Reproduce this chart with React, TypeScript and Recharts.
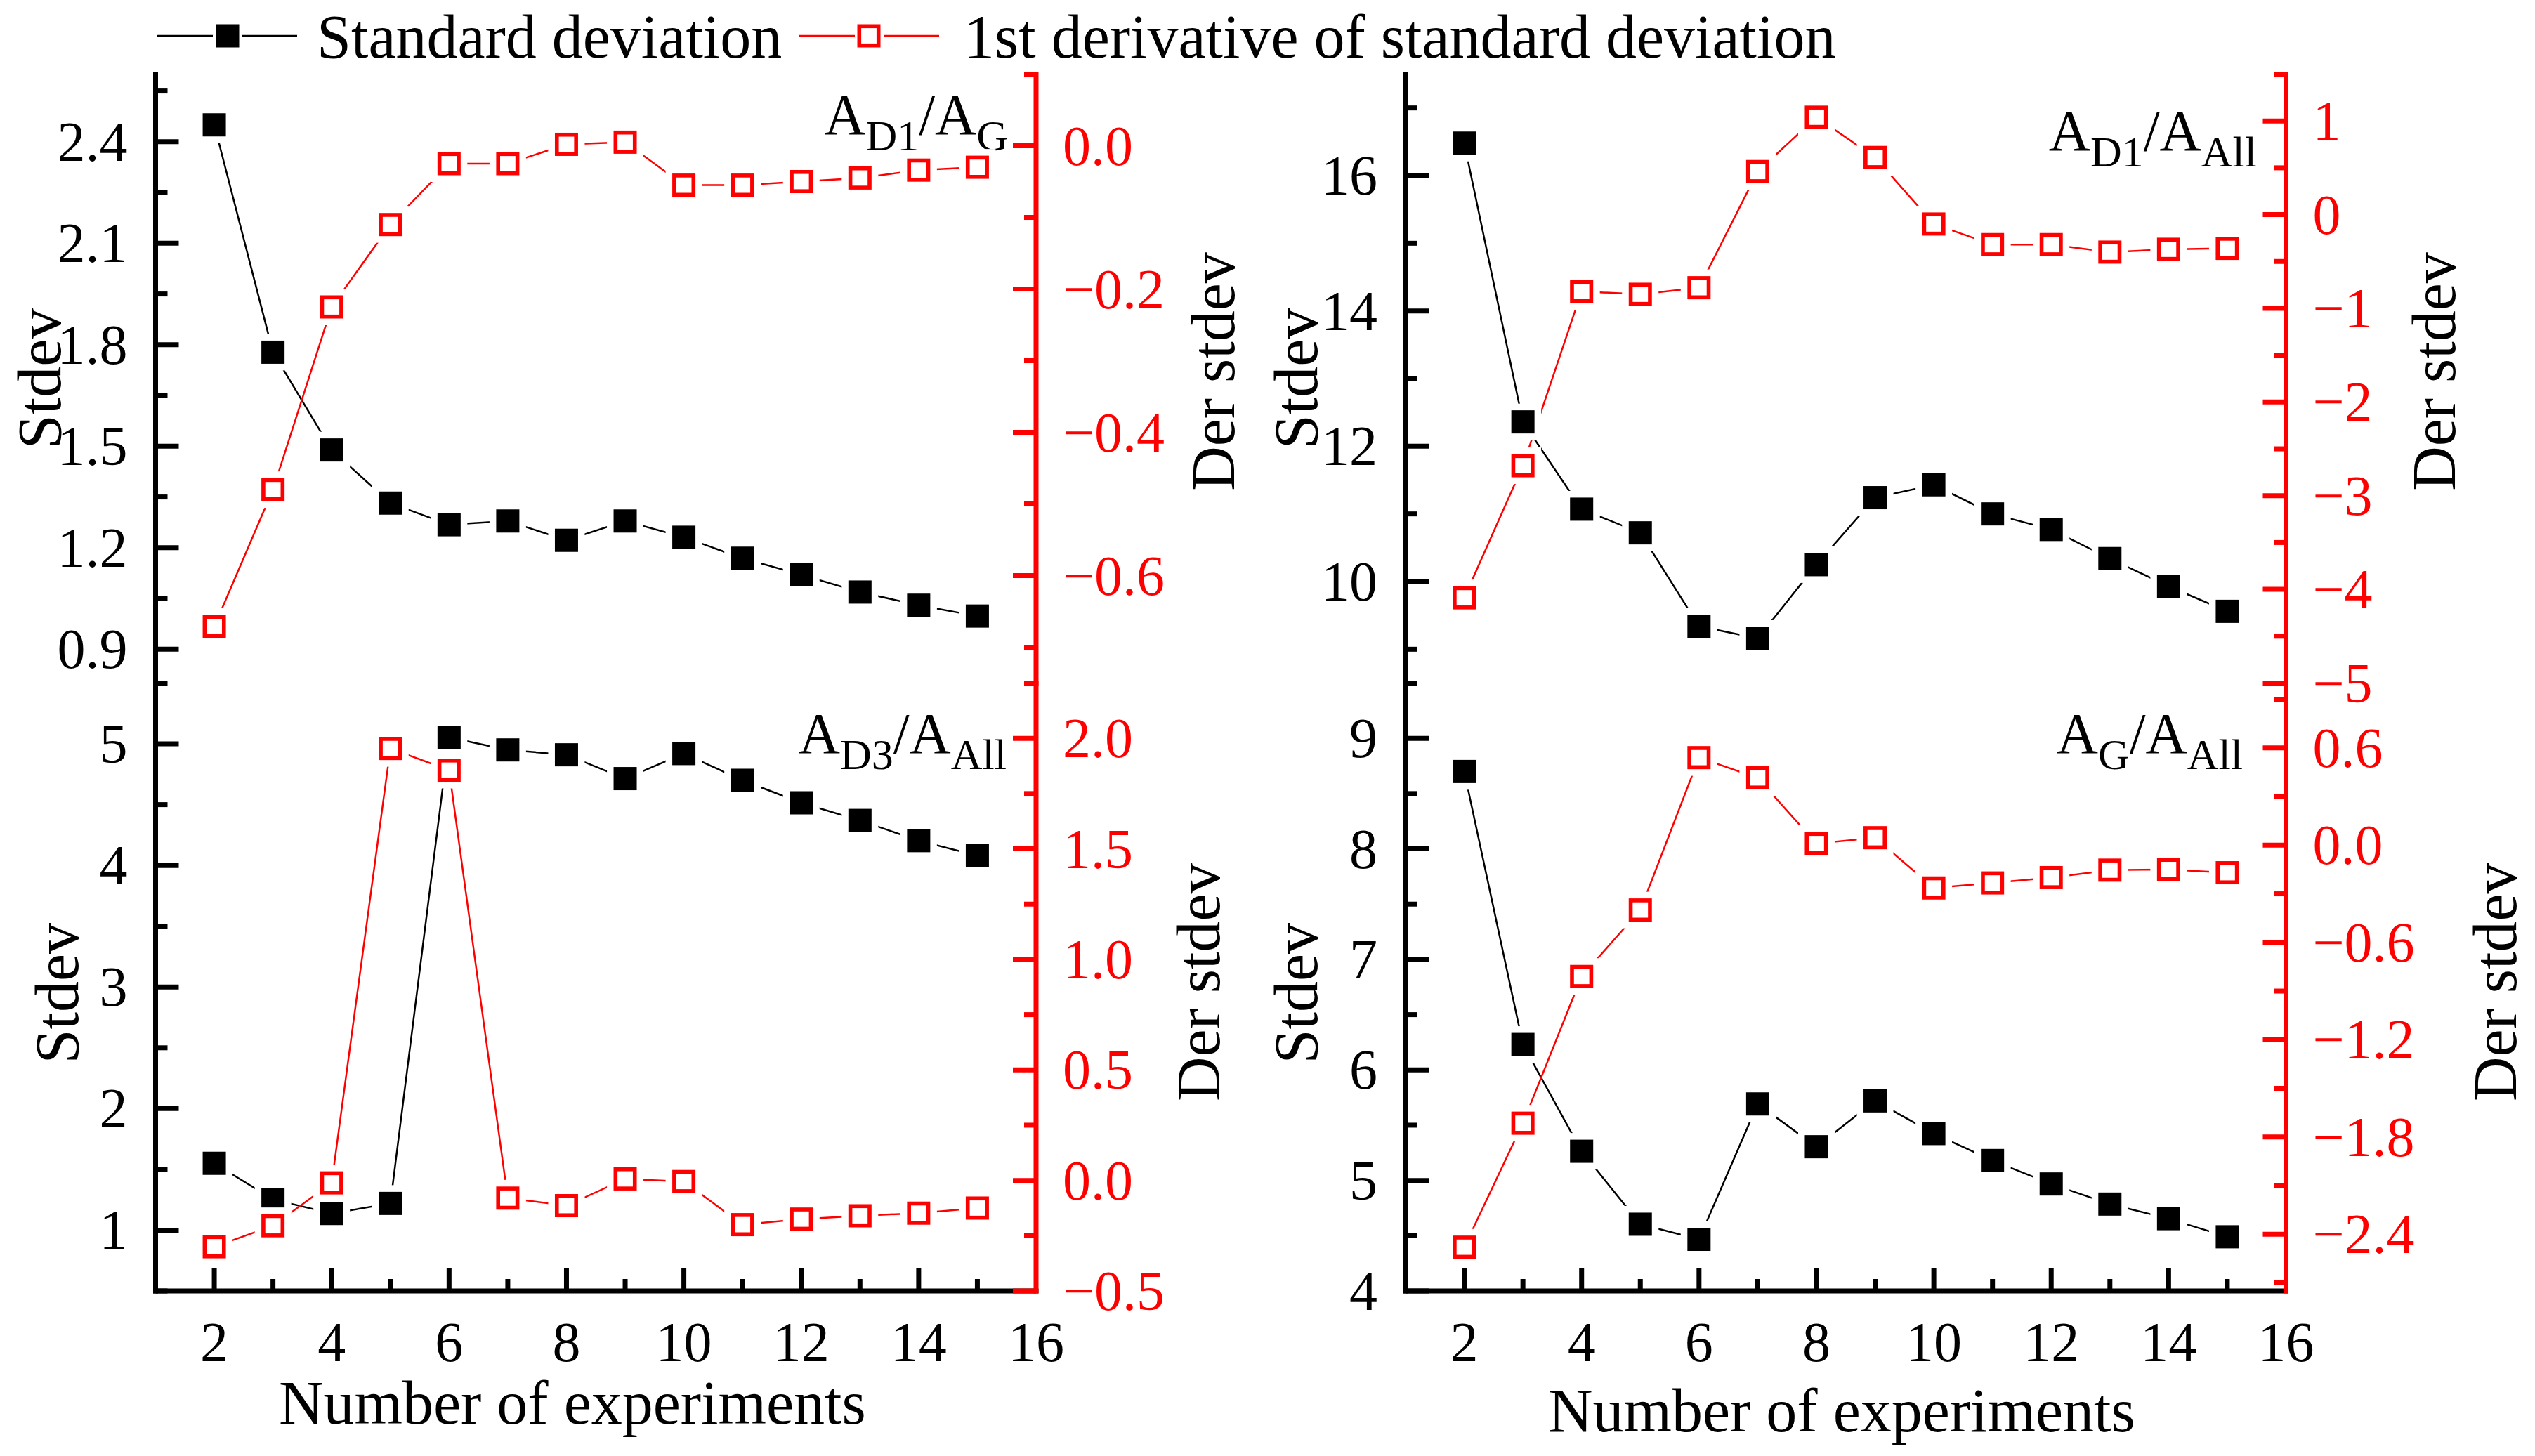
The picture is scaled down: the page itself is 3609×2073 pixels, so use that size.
import React from 'react';
import { LineChart, Line, XAxis, YAxis, Legend, Customized } from 'recharts';

const FONT = '"Liberation Serif", "Times New Roman", serif';
const W = 3609;
const H = 2073;
const RED = '#ff0000';
const BLACK = '#000000';

// ---------- data ----------
const experiments = [2, 3, 4, 5, 6, 7, 8, 9, 10, 11, 12, 13, 14, 15];

const stdevD1G = [2.45, 1.778, 1.489, 1.332, 1.268, 1.279, 1.222, 1.279, 1.231, 1.169, 1.12, 1.069, 1.03, 0.998];
const derD1G = [-0.671, -0.48, -0.225, -0.11, -0.025, -0.025, 0.002, 0.005, -0.055, -0.055, -0.05, -0.045, -0.034, -0.03];

const stdevD1All = [16.48, 12.36, 11.07, 10.72, 9.34, 9.16, 10.25, 11.24, 11.43, 11.0, 10.77, 10.34, 9.93, 9.56];
const derD1All = [-4.09, -2.68, -0.82, -0.85, -0.78, 0.46, 1.04, 0.61, -0.1, -0.32, -0.32, -0.4, -0.37, -0.36];

const stdevD3All = [1.55, 1.253, 1.137, 1.22, 5.054, 4.95, 4.91, 4.714, 4.92, 4.7, 4.515, 4.37, 4.204, 4.08];
const derD3All = [-0.3, -0.205, -0.011, 1.954, 1.856, -0.08, -0.114, 0.007, -0.005, -0.2, -0.175, -0.16, -0.148, -0.125];

const stdevGAll = [8.7, 6.23, 5.264, 4.604, 4.467, 5.692, 5.305, 5.72, 5.424, 5.18, 4.968, 4.786, 4.654, 4.49];
const derGAll = [-2.48, -1.715, -0.81, -0.4, 0.54, 0.415, 0.01, 0.046, -0.264, -0.233, -0.2, -0.154, -0.15, -0.17];

// ---------- tick labels ----------
const xMajorTicks = [2, 4, 6, 8, 10, 12, 14, 16];
const xMinorTicks = [3, 5, 7, 9, 11, 13, 15];

const tlLeftMajor = [0.9, 1.2, 1.5, 1.8, 2.1, 2.4];
const tlLeftMinor = [1.05, 1.35, 1.65, 1.95, 2.25, 2.55];
const tlRightMajor = [-0.6, -0.4, -0.2, 0.0];
const tlRightMinor = [-0.7, -0.5, -0.3, -0.1, 0.1];

const trLeftMajor = [10, 12, 14, 16];
const trLeftMinor = [9, 11, 13, 15, 17];
const trRightMajor = [-5, -4, -3, -2, -1, 0, 1];
const trRightMinor = [-4.5, -3.5, -2.5, -1.5, -0.5, 0.5, 1.5];

const blLeftMajor = [1, 2, 3, 4, 5];
const blLeftMinor = [0.5, 1.5, 2.5, 3.5, 4.5, 5.5];
const blRightMajor = [-0.5, 0.0, 0.5, 1.0, 1.5, 2.0];
const blRightMinor = [-0.25, 0.25, 0.75, 1.25, 1.75, 2.25];

const brLeftMajor = [4, 5, 6, 7, 8, 9];
const brLeftMinor = [4.5, 5.5, 6.5, 7.5, 8.5, 9.5];
const brRightMajor = [-2.4, -1.8, -1.2, -0.6, 0.0, 0.6];
const brRightMinor = [-2.7, -2.1, -1.5, -0.9, -0.3, 0.3, 0.9];

const legendLabels = ['Standard deviation', '1st derivative of standard deviation'];

const buildRows = (s: number[], d: number[]) =>
  experiments.map((x, i) => ({ x, s: s[i], d: d[i] }));

// ---------- helpers ----------
const minus = (str: string) => str.replace('-', '\u2212');
const fmtInt = (v: number) => minus(String(Math.round(v)));
const fmt1 = (v: number) => minus((Math.abs(v) < 1e-9 ? 0 : v).toFixed(1));

const isIn = (arr: number[], v: number) => arr.some((m) => Math.abs(m - v) < 1e-9);

const TICK_FS = 80;
const TITLE_FS = 88;
const MAJOR = 33;
const MINOR = 17;
const AXW = 7;

function YTick(props: any) {
  const { x, y, payload, side, majors, fmt, color } = props;
  const v = payload.value;
  const major = isIn(majors, v);
  const len = major ? MAJOR : MINOR;
  const dir = side === 'left' ? 1 : -1;
  return (
    <g>
      <line x1={x} y1={y} x2={x + dir * len} y2={y} stroke={color} strokeWidth={AXW} />
      {major && (
        <text
          x={side === 'left' ? x - 40 : x + 38}
          y={y + 27}
          textAnchor={side === 'left' ? 'end' : 'start'}
          fill={color}
          fontSize={TICK_FS}
          fontFamily={FONT}
        >
          {fmt(v)}
        </text>
      )}
    </g>
  );
}

function XTick(props: any) {
  const { x, y, payload } = props;
  const v = payload.value;
  const major = isIn(xMajorTicks, v);
  const len = v >= 16 ? 0 : major ? MAJOR : MINOR;
  return (
    <g>
      {len > 0 && <line x1={x} y1={y} x2={x} y2={y - len} stroke={BLACK} strokeWidth={AXW} />}
      {major && (
        <text x={x} y={y + 100} textAnchor="middle" fill={BLACK} fontSize={TICK_FS} fontFamily={FONT}>
          {v}
        </text>
      )}
    </g>
  );
}

function YTitle(props: any) {
  const { viewBox, side, text, dx, dy } = props;
  const vb = viewBox || { x: 0, y: 0, width: 0, height: 0 };
  const axisX = side === 'left' ? vb.x + vb.width : vb.x;
  const bx = axisX + dx;
  const cy = vb.y + vb.height / 2 + dy;
  return (
    <text
      x={bx}
      y={cy}
      transform={`rotate(-90 ${bx} ${cy})`}
      textAnchor="middle"
      fill={BLACK}
      fontSize={TITLE_FS}
      fontFamily={FONT}
    >
      {text}
    </text>
  );
}

function XTitle(props: any) {
  const { viewBox, dx, baseline } = props;
  const vb = viewBox || { x: 0, y: 0, width: 0, height: 0 };
  return (
    <text x={vb.x + dx} y={baseline} textAnchor="start" fill={BLACK} fontSize={TITLE_FS} fontFamily={FONT}>
      Number of experiments
    </text>
  );
}

const PAD = 52;
function BlackDot(props: any) {
  const { cx, cy, index } = props;
  if (cx == null || cy == null) return <g key={`b${index}`} />;
  return (
    <g key={`b${index}`}>
      <rect x={cx - PAD / 2} y={cy - PAD / 2} width={PAD} height={PAD} fill="#fff" />
      <rect x={cx - 16.5} y={cy - 16.5} width={33} height={33} fill={BLACK} />
    </g>
  );
}
function RedDot(props: any) {
  const { cx, cy, index } = props;
  if (cx == null || cy == null) return <g key={`r${index}`} />;
  return (
    <g key={`r${index}`}>
      <rect x={cx - PAD / 2} y={cy - PAD / 2} width={PAD} height={PAD} fill="#fff" />
      <rect x={cx - 13.7} y={cy - 13.7} width={27.4} height={27.4} fill="#fff" stroke={RED} strokeWidth={5.6} />
    </g>
  );
}

function PanelLabel({ x, y, parts }: { x: number; y: number; parts: [string, string, string, string] }) {
  const [a, sa, b, sb] = parts;
  return (
    <text x={x} y={y} textAnchor="end" fill={BLACK} fontSize={82} fontFamily={FONT}>
      <tspan>{a}</tspan>
      <tspan dy={23} fontSize={62}>{sa}</tspan>
      <tspan dy={-23}>{b}</tspan>
      <tspan dy={23} fontSize={62}>{sb}</tspan>
    </text>
  );
}

function LegendContent() {
  const cy = 51;
  return (
    <svg width={W} height={110} style={{ display: 'block' }}>
      <line x1={224} y1={cy} x2={303} y2={cy} stroke={BLACK} strokeWidth={2.5} />
      <line x1={345} y1={cy} x2={423} y2={cy} stroke={BLACK} strokeWidth={2.5} />
      <rect x={324 - 16.5} y={cy - 16.5} width={33} height={33} fill={BLACK} />
      <text x={451} y={82} fontSize={TITLE_FS} fontFamily={FONT} fill={BLACK}>
        {legendLabels[0]}
      </text>
      <line x1={1137} y1={cy} x2={1217} y2={cy} stroke={RED} strokeWidth={2.5} />
      <line x1={1258} y1={cy} x2={1337} y2={cy} stroke={RED} strokeWidth={2.5} />
      <rect x={1237 - 13.7} y={cy - 13.7} width={27.4} height={27.4} fill="#fff" stroke={RED} strokeWidth={5.6} />
      <text x={1372} y={82} fontSize={TITLE_FS} fontFamily={FONT} fill={BLACK}>
        {legendLabels[1]}
      </text>
    </svg>
  );
}

// ---------- layout ----------
const LEFT_X0 = 221.5;
const LEFT_X1 = 1475;
const RIGHT_X0 = 2001;
const RIGHT_X1 = 3254.5;
const TOP_Y = 105.5;
const MID_Y = 972.5;
const BOT_Y = 1838;
const YAW = 100;
const XAH = 150;

type PanelProps = {
  rows: { x: number; s: number; d: number }[];
  x0: number;
  x1: number;
  top: boolean;
  leftDomain: [number, number];
  rightDomain: [number, number];
  leftMajor: number[];
  leftMinor: number[];
  rightMajor: number[];
  rightMinor: number[];
  leftFmt: (v: number) => string;
  rightFmt: (v: number) => string;
  leftTitleDx: number;
  leftTitleDy: number;
  rightTitleDx: number;
  rightTitleDy: number;
  xTitleDx?: number;
  xTitleBaseline?: number;
  label: [string, string, string, string];
  labelX: number;
  labelY: number;
  legend?: boolean;
};

function Panel(p: PanelProps) {
  const y0 = p.top ? TOP_Y : MID_Y;
  const y1 = p.top ? MID_Y : BOT_Y;
  const bottomH = p.top ? 0 : XAH;
  const margin = {
    left: p.x0 - YAW,
    right: W - p.x1 - YAW,
    top: y0,
    bottom: H - y1 - bottomH,
  };
  const axisLineBlack = { stroke: BLACK, strokeWidth: AXW, strokeLinecap: 'square' as const };
  const axisLineRed = { stroke: RED, strokeWidth: AXW, strokeLinecap: 'square' as const };
  return (
    <div style={{ position: 'absolute', left: 0, top: 0 }}>
      <LineChart width={W} height={H} data={p.rows} margin={margin}>
        <XAxis
          xAxisId="top"
          orientation="top"
          type="number"
          dataKey="x"
          domain={[1, 16]}
          allowDataOverflow
          height={0}
          tick={false}
          tickLine={false}
          axisLine={axisLineBlack}
        />
        {p.top ? (
          <XAxis
            xAxisId="bottom"
            orientation="bottom"
            type="number"
            dataKey="x"
            domain={[1, 16]}
            allowDataOverflow
            height={0}
            tick={false}
            tickLine={false}
            axisLine={axisLineBlack}
          />
        ) : (
          <XAxis
            xAxisId="bottom"
            orientation="bottom"
            type="number"
            dataKey="x"
            domain={[1, 16]}
            allowDataOverflow
            height={XAH}
            ticks={[...xMajorTicks, ...xMinorTicks]}
            interval={0}
            tickSize={0}
            tickMargin={0}
            tickLine={false}
            tick={<XTick />}
            axisLine={axisLineBlack}
            label={<XTitle dx={p.xTitleDx} baseline={p.xTitleBaseline} />}
          />
        )}
        <YAxis
          yAxisId="left"
          orientation="left"
          type="number"
          domain={p.leftDomain}
          allowDataOverflow
          width={YAW}
          ticks={[...p.leftMajor, ...p.leftMinor]}
          interval={0}
          tickSize={0}
          tickMargin={0}
          tickLine={false}
          tick={<YTick side="left" majors={p.leftMajor} fmt={p.leftFmt} color={BLACK} />}
          axisLine={axisLineBlack}
          label={<YTitle side="left" text="Stdev" dx={p.leftTitleDx} dy={p.leftTitleDy} />}
        />
        <YAxis
          yAxisId="right"
          orientation="right"
          type="number"
          domain={p.rightDomain}
          allowDataOverflow
          width={YAW}
          ticks={[...p.rightMajor, ...p.rightMinor]}
          interval={0}
          tickSize={0}
          tickMargin={0}
          tickLine={false}
          tick={<YTick side="right" majors={p.rightMajor} fmt={p.rightFmt} color={RED} />}
          axisLine={axisLineRed}
          label={<YTitle side="right" text="Der stdev" dx={p.rightTitleDx} dy={p.rightTitleDy} />}
        />
        <Line
          xAxisId="bottom"
          yAxisId="left"
          dataKey="s"
          type="linear"
          stroke={BLACK}
          strokeWidth={2.5}
          dot={BlackDot}
          activeDot={false}
          isAnimationActive={false}
          name={legendLabels[0]}
        />
        <Line
          xAxisId="bottom"
          yAxisId="right"
          dataKey="d"
          type="linear"
          stroke={RED}
          strokeWidth={2.5}
          dot={RedDot}
          activeDot={false}
          isAnimationActive={false}
          name={legendLabels[1]}
        />
        <Customized component={() => <PanelLabel x={p.labelX} y={p.labelY} parts={p.label} />} />
        {p.legend && (
          <Legend
            verticalAlign="middle"
            align="center"
            layout="horizontal"
            wrapperStyle={{ left: 0, top: 0, width: W, height: 110, position: 'absolute' }}
            content={() => <LegendContent />}
          />
        )}
      </LineChart>
    </div>
  );
}

export default function App() {
  return (
    <div style={{ position: 'absolute', left: 0, top: 0, width: W, height: H, background: '#fff', overflow: 'hidden' }}>
      <Panel
        rows={buildRows(stdevD1G, derD1G)}
        x0={LEFT_X0}
        x1={LEFT_X1}
        top
        leftDomain={[0.8, 2.6]}
        rightDomain={[-0.75, 0.1]}
        leftMajor={tlLeftMajor}
        leftMinor={tlLeftMinor}
        rightMajor={tlRightMajor}
        rightMinor={tlRightMinor}
        leftFmt={fmt1}
        rightFmt={fmt1}
        leftTitleDx={-135.5}
        leftTitleDy={0}
        rightTitleDx={282}
        rightTitleDy={-10}
        label={['A', 'D1', '/A', 'G']}
        labelX={1435}
        labelY={191}
        legend
      />
      <Panel
        rows={buildRows(stdevD1All, derD1All)}
        x0={RIGHT_X0}
        x1={RIGHT_X1}
        top
        leftDomain={[8.5, 17.5]}
        rightDomain={[-5, 1.5]}
        leftMajor={trLeftMajor}
        leftMinor={trLeftMinor}
        rightMajor={trRightMajor}
        rightMinor={trRightMinor}
        leftFmt={fmtInt}
        rightFmt={fmtInt}
        leftTitleDx={-126}
        leftTitleDy={0}
        rightTitleDx={240.5}
        rightTitleDy={-10}
        label={['A', 'D1', '/A', 'All']}
        labelX={3213}
        labelY={214}
      />
      <Panel
        rows={buildRows(stdevD3All, derD3All)}
        x0={LEFT_X0}
        x1={LEFT_X1}
        top={false}
        leftDomain={[0.5, 5.5]}
        rightDomain={[-0.5, 2.25]}
        leftMajor={blLeftMajor}
        leftMinor={blLeftMinor}
        rightMajor={blRightMajor}
        rightMinor={blRightMinor}
        leftFmt={fmtInt}
        rightFmt={fmt1}
        leftTitleDx={-110.5}
        leftTitleDy={9}
        rightTitleDx={261}
        rightTitleDy={-7}
        xTitleDx={397 - LEFT_X0}
        xTitleBaseline={2027}
        label={['A', 'D3', '/A', 'All']}
        labelX={1433}
        labelY={1072}
      />
      <Panel
        rows={buildRows(stdevGAll, derGAll)}
        x0={RIGHT_X0}
        x1={RIGHT_X1}
        top={false}
        leftDomain={[4, 9.5]}
        rightDomain={[-2.75, 1.0]}
        leftMajor={brLeftMajor}
        leftMinor={brLeftMinor}
        rightMajor={brRightMajor}
        rightMinor={brRightMinor}
        leftFmt={fmtInt}
        rightFmt={fmt1}
        leftTitleDx={-126}
        leftTitleDy={9}
        rightTitleDx={327.5}
        rightTitleDy={-7}
        xTitleDx={2204 - RIGHT_X0}
        xTitleBaseline={2038}
        label={['A', 'G', '/A', 'All']}
        labelX={3193}
        labelY={1072}
      />
    </div>
  );
}
